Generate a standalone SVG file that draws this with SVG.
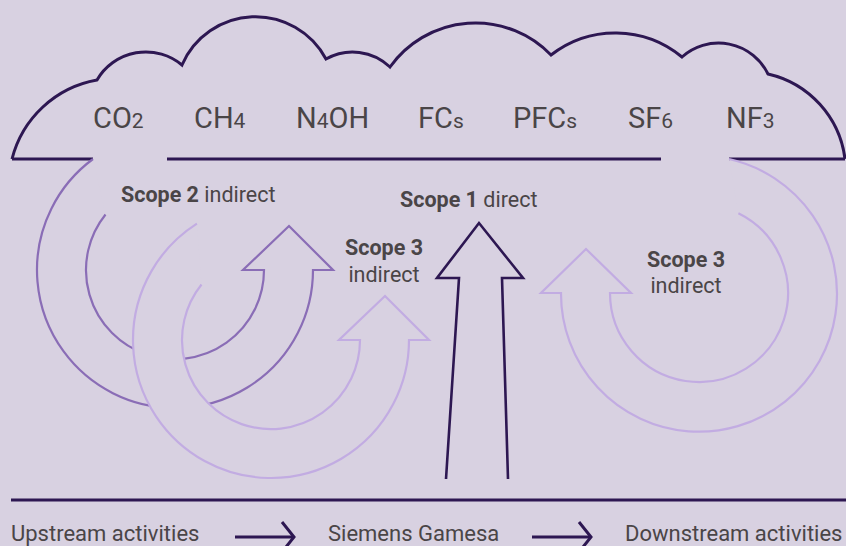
<svg xmlns="http://www.w3.org/2000/svg" width="846" height="546" viewBox="0 0 846 546">
  <style>
    .bg { fill: #d8d1e1; }
    .dark { fill: none; stroke: #2d1752; stroke-width: 3; stroke-linejoin: miter; }
    .shaft { fill: none; stroke: #2d1752; stroke-width: 2.6; stroke-linejoin: miter; }
    .mid { fill: #d8d1e1; stroke: #8a6db6; stroke-width: 2.2; stroke-linejoin: miter; }
    .light { fill: #d8d1e1; stroke: #c2ace2; stroke-width: 2.2; stroke-linejoin: miter; }
    .gas { font-family: Roboto, "Liberation Sans", sans-serif; font-size: 29px; fill: #4a4547; }
    .gas .sub { font-size: 21px; }
    .lbl { font-family: Roboto, "Liberation Sans", sans-serif; font-size: 21.5px; fill: #4a4547; }
    .lbl .b { font-weight: bold; }
    .flow { font-family: Roboto, "Liberation Sans", sans-serif; font-size: 22px; fill: #4a4547; }
    .conn { fill: none; stroke: #2d1752; stroke-width: 3; }
  </style>
  <defs>
    <marker id="chevron" markerUnits="userSpaceOnUse" markerWidth="16" markerHeight="34" refX="13" refY="16" orient="auto" overflow="visible">
      <path d="M1,1 L13,16 L1,31" fill="none" stroke="#2d1752" stroke-width="3"/>
    </marker>
  </defs>

  <rect class="bg" x="0" y="0" width="846" height="546"/>

  <!-- cloud of greenhouse gases -->
  <g id="cloud">
    <path class="dark" d="M12,159 A107,107 0 0 1 97,80 A56.5,56.5 0 0 1 182,65 A80,80 0 0 1 326,59 A54,54 0 0 1 390,67 A105,105 0 0 1 551,55 A104.7,104.7 0 0 1 682,57 A55,55 0 0 1 768,74 A100,100 0 0 1 845,159"/>
    <path class="dark" d="M12,159 H93 M167,159 H661 M729,159 H845"/>
  </g>

  <g id="gases" class="gas">
    <text x="93" y="128">CO<tspan class="sub">2</tspan></text>
    <text x="194" y="128">CH<tspan class="sub">4</tspan></text>
    <text x="296" y="128">N<tspan class="sub">4</tspan>OH</text>
    <text x="418" y="128">FC<tspan class="sub">s</tspan></text>
    <text x="513" y="128">PFC<tspan class="sub">s</tspan></text>
    <text x="628" y="128">SF<tspan class="sub">6</tspan></text>
    <text x="726" y="128">NF<tspan class="sub">3</tspan></text>
  </g>

  <!-- Scope 2: curved arrow, centre (175,270) -->
  <g id="scope2">
    <path class="mid" d="M93,159 A138,138 0 1 0 313,270 L333,270 L289,226 L243,270 L264,270 A89,89 0 1 1 105.5,214.5"/>
  </g>

  <!-- Scope 3 upstream: same arrow, centre (271,340) -->
  <g id="scope3-upstream">
    <path class="light" d="M196.9,223.6 A138,138 0 1 0 409,340 L429,340 L385,296 L339,340 L360,340 A89,89 0 1 1 201.5,284.5"/>
  </g>

  <!-- Scope 3 downstream: mirrored arrow, centre (699,293) -->
  <g id="scope3-downstream">
    <path class="light" d="M729,159 A138,138 0 1 1 561,293 L541,293 L586,249 L631,293 L610,293 A89,89 0 1 0 738.4,213.2"/>
  </g>

  <!-- Scope 1: straight arrow -->
  <g id="scope1">
    <path class="shaft" d="M446,479 L459,278 L437,278 L479,223 L523,278 L502,278 L508,479"/>
  </g>

  <g id="labels" class="lbl">
    <text x="121" y="202"><tspan class="b">Scope 2</tspan> indirect</text>
    <text x="400" y="207"><tspan class="b">Scope 1</tspan> direct</text>
    <text x="384" y="255" text-anchor="middle" font-weight="bold">Scope 3</text>
    <text x="384" y="282" text-anchor="middle">indirect</text>
    <text x="686" y="267" text-anchor="middle" font-weight="bold">Scope 3</text>
    <text x="686" y="293" text-anchor="middle">indirect</text>
  </g>

  <!-- value chain -->
  <g id="baseline">
    <path class="dark" d="M11,500 H846"/>
  </g>
  <g id="upstream" class="flow"><text x="11" y="541">Upstream activities</text></g>
  <g id="company" class="flow"><text x="328" y="541">Siemens Gamesa</text></g>
  <g id="downstream" class="flow"><text x="625" y="541">Downstream activities</text></g>

  <g id="connectors">
    <path class="conn" d="M235,537 H294" marker-end="url(#chevron)"/>
    <path class="conn" d="M532,537 H591" marker-end="url(#chevron)"/>
  </g>
</svg>
